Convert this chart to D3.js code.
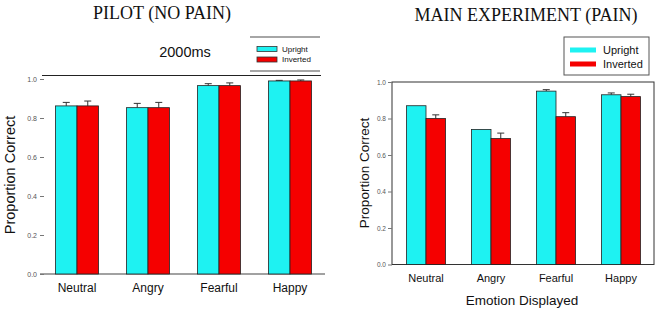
<!DOCTYPE html>
<html><head><meta charset="utf-8">
<script src="https://cdn.jsdelivr.net/npm/d3@7"></script>
<style>body{margin:0;background:#fff}svg{display:block}</style>
</head><body>
<script>
const categories = ["Neutral", "Angry", "Fearful", "Happy"];
const seriesNames = ["Upright", "Inverted"];
const pilotUpright = [0.862, 0.853, 0.966, 0.99];
const pilotInverted = [0.862, 0.853, 0.966, 0.99];
const pilotUprightErr = [0.018, 0.022, 0.010, 0.003];
const pilotInvertedErr = [0.025, 0.027, 0.014, 0.005];
const mainUpright = [0.87, 0.74, 0.95, 0.93];
const mainInverted = [0.80, 0.69, 0.81, 0.92];
const mainUprightErr = [0.0, 0.0, 0.008, 0.01];
const mainInvertedErr = [0.02, 0.03, 0.022, 0.013];
const yTicks = [0, 0.2, 0.4, 0.6, 0.8, 1.0];
const colors = ["#1ef2f2", "#f50000"];

const W = 668, H = 312;
const svg = d3.select("body").append("svg").attr("width", W).attr("height", H);

function panel(cfg) {
  const g = svg.append("g");
  const x = d3.scaleBand().domain(categories).range(cfg.xr).paddingInner(cfg.pad).paddingOuter(cfg.pad / 2);
  const xs = d3.scaleBand().domain(seriesNames).range([0, x.bandwidth()]);
  const y = d3.scaleLinear().domain([0, 1]).range(cfg.yr);
  const vals = [cfg.u, cfg.i], errs = [cfg.ue, cfg.ie];

  // frame / axes
  if (cfg.box) {
    g.append("rect").attr("x", cfg.frame[0]).attr("y", y(1)).attr("width", cfg.frame[1] - cfg.frame[0])
      .attr("height", y(0) - y(1)).attr("fill", "none").attr("stroke", "#333").attr("stroke-width", 1);
  } else {
    g.append("line").attr("x1", cfg.topLine[0]).attr("x2", cfg.topLine[1]).attr("y1", y(1) - 3.5).attr("y2", y(1) - 3.5)
      .attr("stroke", "#222").attr("stroke-width", 1.2);
    g.append("line").attr("x1", cfg.frame[0]).attr("x2", cfg.frame[1]).attr("y1", y(0)).attr("y2", y(0))
      .attr("stroke", "#444").attr("stroke-width", 1.2);
  }

  // y ticks
  const ya = d3.axisLeft(y).tickValues(yTicks).tickFormat(d3.format(".1f")).tickSize(cfg.tickLen).tickPadding(cfg.tickPad);
  const ag = g.append("g").attr("transform", `translate(${cfg.tickX},0)`).call(ya);
  ag.select(".domain").remove();
  ag.selectAll(".tick line").attr("stroke", "#777");
  ag.selectAll(".tick text").attr("font-family", "Arial, 'Liberation Sans', sans-serif")
    .attr("font-size", cfg.tickFont).attr("fill", "#555");

  // bars
  categories.forEach((c, ci) => {
    seriesNames.forEach((s, si) => {
      const v = vals[si][ci], e = errs[si][ci];
      const bx = x(c) + xs(s);
      if (e > 0) {
        const cx = bx + xs.bandwidth() / 2;
        g.append("line").attr("x1", cx).attr("x2", cx).attr("y1", y(v)).attr("y2", y(v + e)).attr("stroke", "#333").attr("stroke-width", 1);
        g.append("line").attr("x1", cx - 3.5).attr("x2", cx + 3.5).attr("y1", y(v + e)).attr("y2", y(v + e)).attr("stroke", "#333").attr("stroke-width", 1);
      }
      g.append("rect").attr("x", bx).attr("y", y(v)).attr("width", xs.bandwidth()).attr("height", y(0) - y(v))
        .attr("fill", colors[si]).attr("stroke", "#222").attr("stroke-width", 0.8);
    });
  });

  // category labels
  categories.forEach(c => {
    g.append("text").attr("x", x(c) + x.bandwidth() / 2).attr("y", cfg.catY).attr("text-anchor", "middle")
      .attr("font-family", "Arial, 'Liberation Sans', sans-serif").attr("font-size", cfg.catFont).attr("fill", "#111").text(c);
  });

  // y title
  g.append("text").attr("transform", `translate(${cfg.yTitleX},${cfg.yTitleY}) rotate(-90)`).attr("text-anchor", "middle")
    .attr("font-family", "Arial, 'Liberation Sans', sans-serif").attr("font-size", cfg.yTitleFont).attr("fill", "#111")
    .text("Proportion Correct");

  // title
  g.append("text").attr("x", cfg.titleX).attr("y", cfg.titleY).attr("text-anchor", "middle")
    .attr("font-family", "'Palatino Linotype', 'Book Antiqua', 'Liberation Serif', serif").attr("font-size", 18).attr("fill", "#111")
    .text(cfg.title);

  // legend
  const L = cfg.legend;
  if (L.box) {
    g.append("rect").attr("x", L.x0).attr("y", L.y0).attr("width", L.x1 - L.x0).attr("height", L.y1 - L.y0)
      .attr("fill", "#fff").attr("stroke", "#555").attr("stroke-width", 1);
  } else {
    [L.y0, L.y1].forEach(yy => g.append("line").attr("x1", L.x0).attr("x2", L.x1).attr("y1", yy).attr("y2", yy)
      .attr("stroke", "#888").attr("stroke-width", 1.6));
  }
  seriesNames.forEach((s, si) => {
    g.append("rect").attr("x", L.sx).attr("y", L.sy[si]).attr("width", L.sw).attr("height", L.sh)
      .attr("fill", colors[si]).attr("stroke", "#333").attr("stroke-width", L.box ? 0 : 0.8);
    g.append("text").attr("x", L.tx).attr("y", L.sy[si] + L.sh / 2).attr("dy", "0.35em")
      .attr("font-family", "Arial, 'Liberation Sans', sans-serif").attr("font-size", L.font).attr("fill", "#111").text(s);
  });
  return g;
}

panel({
  xr: [41.5, 325.5], pad: 0.394, yr: [274, 79], u: pilotUpright, i: pilotInverted, ue: pilotUprightErr, ie: pilotInvertedErr,
  box: false, frame: [40, 325], topLine: [42, 321],
  tickX: 44, tickLen: 4, tickPad: 3, tickFont: 7,
  catY: 292, catFont: 12, yTitleX: 15, yTitleY: 175, yTitleFont: 14.5,
  title: "PILOT (NO PAIN)", titleX: 162, titleY: 19,
  legend: { box: false, x0: 250, x1: 320, y0: 37, y1: 71, sx: 257, sw: 20, sh: 5, sy: [46.5, 57], tx: 282, font: 8 }
});

svg.append("text").attr("x", 185).attr("y", 57).attr("text-anchor", "middle")
  .attr("font-family", "Arial, 'Liberation Sans', sans-serif").attr("font-size", 14.5).attr("fill", "#111").text("2000ms");

panel({
  xr: [393.5, 653.5], pad: 0.4, yr: [264.5, 82], u: mainUpright, i: mainInverted, ue: mainUprightErr, ie: mainInvertedErr,
  box: true, frame: [392, 654],
  tickX: 392, tickLen: 4, tickPad: 2, tickFont: 6.5,
  catY: 282, catFont: 11, yTitleX: 369, yTitleY: 173, yTitleFont: 13.5,
  title: "MAIN EXPERIMENT (PAIN)", titleX: 526, titleY: 21,
  legend: { box: true, x0: 564, x1: 649, y0: 37, y1: 75, sx: 570, sw: 26, sh: 5, sy: [47.5, 61.5], tx: 603, font: 11 }
});

svg.append("text").attr("x", 522).attr("y", 305).attr("text-anchor", "middle")
  .attr("font-family", "Arial, 'Liberation Sans', sans-serif").attr("font-size", 13.5).attr("fill", "#111").text("Emotion Displayed");
</script>
</body></html>
